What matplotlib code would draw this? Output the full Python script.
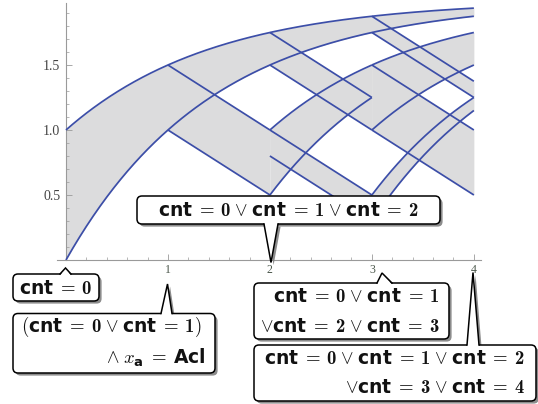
import numpy as np
import matplotlib
matplotlib.use('Agg')
import matplotlib.pyplot as plt
from matplotlib.patches import FancyBboxPatch, Polygon
from matplotlib.ticker import MultipleLocator, FixedLocator

plt.rcParams['mathtext.fontset'] = 'custom'
plt.rcParams['mathtext.rm'] = 'cmr10'
plt.rcParams['mathtext.it'] = 'cmmi10'
plt.rcParams['mathtext.bf'] = 'cmb10'
plt.rcParams['mathtext.sf'] = 'DejaVu Sans:bold'

# ---------------- data ----------------
# rising branches: y = 2 - c * 2**(-t)
rise_t0 = [0, 2, 3, 3]
rise_t1 = [4, 3, 4, 4]
rise_c_top = [1, 4, 4, 12]
rise_c_bot = [2, 6, 8, 13.6]

# descending branches: y = y0 - 0.5 * (t - t0)
desc_t0 = [1, 2, 2, 3, 3]
desc_t1 = [2, 3, 3, 4, 4]
desc_y_top = [1.5, 1.75, 1.0, 1.5, 1.875]
desc_y_bot = [1.0, 1.5, 0.8, 1.0, 1.75]
desc_slope = -0.5

x_ticks = [1, 2, 3, 4]
x_tick_labels = ['1', '2', '3', '4']
y_ticks = [0.5, 1.0, 1.5]
y_tick_labels = ['0.5', '1.0', '1.5']

S = r'\mathsf{cnt}'
def eq(n):
    return S + r'\;=\:\mathbf{' + str(n) + '}'
V = r'\;{\vee}\;'
label_A = ['$' + eq(0) + '$']
label_B = ['$(' + eq(0) + V + eq(1) + ')$', r'${\wedge}\;x_{\mathsf{a}}\;=\:\mathsf{Acl}$']
label_C = ['$' + eq(0) + V + eq(1) + V + eq(2) + '$']
label_D = ['$' + eq(0) + V + eq(1) + '$', '${\\vee}' + eq(2) + V + eq(3) + '$']
label_E = ['$' + eq(0) + V + eq(1) + V + eq(2) + '$', '${\\vee}' + eq(3) + V + eq(4) + '$']

LINE = '#3c4ea8'
FILL = '#dcdcdd'

W, H = 538, 404
fig = plt.figure(figsize=(W / 100, H / 100), dpi=100)
ax = fig.add_axes([56.8 / W, (H - 260) / H, (481 - 56.8) / W, (260 - 2.6) / H])
ax.set_xlim(-0.09, 4.07)
ax.set_ylim(0, 1.98)

for t0, t1, ct, cb in zip(rise_t0, rise_t1, rise_c_top, rise_c_bot):
    t = np.linspace(t0, t1, 300)
    top = 2 - ct * 2.0 ** (-t)
    bot = 2 - cb * 2.0 ** (-t)
    ax.fill_between(t, bot, top, color=FILL, lw=0, zorder=1)
for t0, t1, yt, yb in zip(desc_t0, desc_t1, desc_y_top, desc_y_bot):
    t = np.linspace(t0, t1, 50)
    ax.fill_between(t, yb + desc_slope * (t - t0), yt + desc_slope * (t - t0),
                    color=FILL, lw=0, zorder=1)
for t0, t1, ct, cb in zip(rise_t0, rise_t1, rise_c_top, rise_c_bot):
    t = np.linspace(t0, t1, 300)
    ax.plot(t, 2 - ct * 2.0 ** (-t), color=LINE, lw=1.25, zorder=3, solid_capstyle='butt')
    ax.plot(t, 2 - cb * 2.0 ** (-t), color=LINE, lw=1.25, zorder=3, solid_capstyle='butt')
for t0, t1, yt, yb in zip(desc_t0, desc_t1, desc_y_top, desc_y_bot):
    t = np.array([t0, t1], dtype=float)
    ax.plot(t, yt + desc_slope * (t - t0), color=LINE, lw=1.25, zorder=3, solid_capstyle='butt')
    ax.plot(t, yb + desc_slope * (t - t0), color=LINE, lw=1.25, zorder=3, solid_capstyle='butt')

ax.patch.set_alpha(0)
for s in ['top', 'right']:
    ax.spines[s].set_visible(False)
ax.spines['left'].set_position(('data', 0))
ax.spines['bottom'].set_position(('data', 0))
for s in ['left', 'bottom']:
    ax.spines[s].set_color('#9a9a9a')
    ax.spines[s].set_linewidth(0.8)
ax.xaxis.set_major_locator(FixedLocator(x_ticks))
ax.set_xticklabels(x_tick_labels, family='Liberation Serif', fontsize=8.5, color='#4b574b')
ax.yaxis.set_major_locator(FixedLocator(y_ticks))
ax.set_yticklabels(y_tick_labels, family='Liberation Serif', fontsize=10, color='#444444')
ax.xaxis.set_minor_locator(MultipleLocator(0.2))
ax.yaxis.set_minor_locator(MultipleLocator(0.1))
ax.tick_params(which='major', direction='in', length=4, width=0.6, color='#9a9a9a')
ax.tick_params(which='minor', direction='in', length=2.3, width=0.5, color='#9a9a9a')
ax.tick_params(axis='x', which='major', pad=3)
ax.tick_params(axis='y', which='major', pad=4)

# ---------------- callouts (overlay in pixel space) ----------------
ov = fig.add_axes([0, 0, 1, 1])
ov.set_xlim(0, W)
ov.set_ylim(H, 0)
ov.axis('off')
ov.patch.set_alpha(0)

def callout(x0, y0, x1, y1, ba, bb, tip, side):
    d = 2.6
    r = 5
    by = y0 if side == 'top' else y1
    inward = 1.6 if side == 'top' else -1.6
    ov.add_patch(FancyBboxPatch((x0 + d, y0 + d), x1 - x0, y1 - y0,
                                boxstyle=f'round,pad=0,rounding_size={r}',
                                fc='#8c8c8c', ec='none', zorder=1))
    ov.add_patch(Polygon([(ba + d, by + d), (tip[0] + d, tip[1] + d), (bb + d, by + d)],
                         closed=True, fc='#8c8c8c', ec='none', zorder=1))
    ov.add_patch(FancyBboxPatch((x0, y0), x1 - x0, y1 - y0,
                                boxstyle=f'round,pad=0,rounding_size={r}',
                                fc='white', ec='black', lw=1.1, zorder=2))
    ov.add_patch(Polygon([(ba, by + inward), tip, (bb, by + inward)],
                         closed=True, fc='white', ec='none', zorder=3))
    ov.plot([ba, tip[0], bb], [by, tip[1], by], color='black', lw=1.1, zorder=4,
            solid_joinstyle='miter')

FS = 13.5
def txt(x, y, s, ha):
    ov.text(x, y, s, ha=ha, va='center', fontsize=FS, color='#111111', zorder=5)

callout(13, 274, 99, 301, 60, 71, (65.5, 268), 'top')
txt(56, 288, label_A[0], 'center')

callout(13, 313.5, 215, 373, 161, 172, (167.5, 284), 'top')
txt(21, 327, label_B[0], 'left')
txt(206, 357.5, label_B[1], 'right')

callout(137, 196, 440, 224, 264, 278, (271, 262.5), 'bottom')
txt(288.5, 210, label_C[0], 'center')

callout(254, 283, 449, 339, 377, 392, (382, 273), 'top')
txt(440, 296.5, label_D[0], 'right')
txt(440, 326, label_D[1], 'right')

callout(254, 345, 536, 401, 467, 479, (473, 272.5), 'top')
txt(525, 358, label_E[0], 'right')
txt(525, 387.5, label_E[1], 'right')

fig.savefig('out.png', dpi=100)
